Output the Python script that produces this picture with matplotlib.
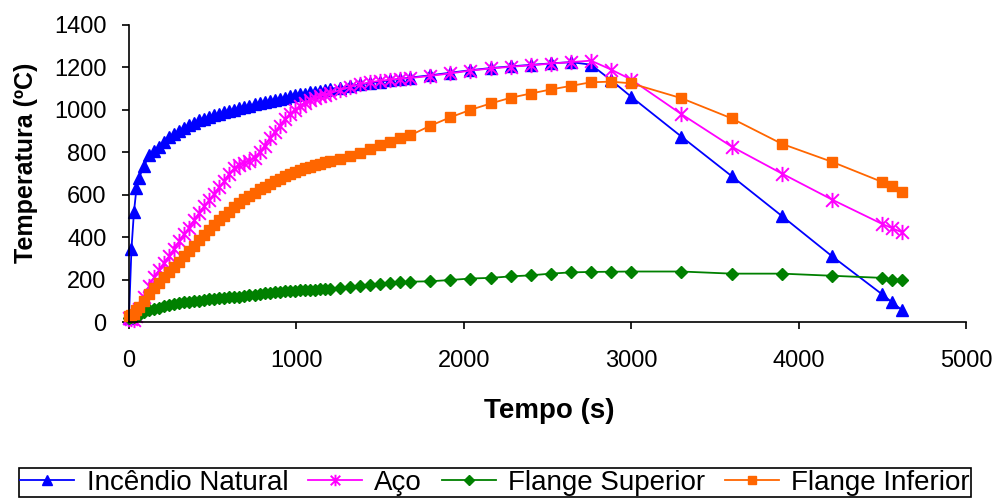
import matplotlib
matplotlib.use("Agg")
import matplotlib.pyplot as plt
from matplotlib.path import Path

plt.rcParams['font.family'] = ['Liberation Sans', 'DejaVu Sans']

# Time (s)
tempo = [0, 15, 30, 45, 60, 90, 120, 150, 180, 210, 240, 270, 300, 330, 360, 390,
         420, 450, 480, 510, 540, 570, 600, 630, 660, 690, 720, 750, 780, 810, 840,
         870, 900, 930, 960, 990, 1020, 1050, 1080, 1110, 1140, 1170, 1200,
         1260, 1320, 1380, 1440, 1500, 1560, 1620, 1680,
         1800, 1920, 2040, 2160, 2280, 2400, 2520, 2640, 2760, 2880, 3000,
         3300, 3600, 3900, 4200, 4500, 4560, 4620]

incendio = [20, 345, 520, 630, 680, 735, 785, 805, 825, 850, 872, 885, 900, 915, 928, 940,
            950, 958, 966, 974, 981, 988, 995, 1001, 1008, 1014, 1020, 1026, 1032, 1037, 1043,
            1048, 1053, 1058, 1063, 1068, 1073, 1077, 1082, 1086, 1090, 1095, 1099,
            1105, 1112, 1120, 1126, 1133, 1140, 1146, 1152,
            1163, 1175, 1187, 1197, 1205, 1212, 1219, 1225, 1213, 1140, 1062,
            874, 688, 500, 310, 130, 92, 55]

aco = [20, 12, 10, 30, 60, 120, 170, 210, 245, 280, 310, 345, 380, 415, 445, 480,
       515, 545, 575, 605, 635, 665, 700, 725, 740, 750, 760, 775, 800, 830, 865,
       895, 925, 955, 980, 1000, 1018, 1033, 1045, 1055, 1063, 1071, 1078,
       1093, 1108, 1120, 1130, 1137, 1142, 1146, 1150,
       1160, 1172, 1185, 1195, 1203, 1210, 1218, 1225, 1232, 1190, 1143,
       980, 827, 700, 577, 462, 442, 422]

flange_sup = [20, 22, 25, 30, 35, 45, 55, 62, 68, 74, 80, 84, 88, 92, 95, 98,
              101, 104, 107, 110, 112, 114, 116, 118, 120, 123, 126, 129, 132, 135, 138,
              140, 142, 144, 146, 148, 150, 151, 152, 153, 154, 155, 156,
              160, 165, 171, 176, 180, 184, 187, 190,
              192, 198, 205, 208, 215, 220, 228, 234, 236, 237, 238,
              238, 228, 228, 218, 208, 200, 200]

flange_inf = [30, 35, 40, 55, 70, 100, 130, 160, 185, 210, 235, 260, 285, 310, 335, 360,
              385, 410, 435, 458, 480, 500, 520, 540, 560, 578, 595, 610, 625, 638, 650,
              663, 675, 686, 697, 707, 716, 725, 733, 740, 746, 752, 757,
              768, 782, 798, 815, 832, 848, 865, 880,
              925, 965, 1000, 1030, 1057, 1077, 1096, 1113, 1130, 1133, 1125,
              1055, 960, 840, 755, 660, 640, 612]

# asterisk marker (x with a vertical bar)
star = Path([(-1, -1), (1, 1), (-1, 1), (1, -1), (0, -1.2), (0, 1.2)],
            [Path.MOVETO, Path.LINETO, Path.MOVETO, Path.LINETO, Path.MOVETO, Path.LINETO])

fig = plt.figure(figsize=(9.95, 4.98), dpi=100)
ax = fig.add_axes([0.1296, 0.3534, 0.8412, 0.5964])

ax.plot(tempo, incendio, color='#0000FF', lw=1.3, marker='^', ms=9,
        label='Incêndio Natural', clip_on=False)
ax.plot(tempo, aco, color='#FF00FF', lw=1.3, marker=star, ms=11, mew=1.4,
        label='Aço', clip_on=False)
ax.plot(tempo, flange_sup, color='#008000', lw=1.3, marker='D', ms=6.5,
        label='Flange Superior', clip_on=False)
ax.plot(tempo, flange_inf, color='#FF6600', lw=1.3, marker='s', ms=7.5,
        label='Flange Inferior', clip_on=False)

ax.set_xlim(0, 5000)
ax.set_ylim(0, 1400)
ax.set_xticks([0, 1000, 2000, 3000, 4000, 5000])
ax.set_yticks(range(0, 1401, 200))
ax.tick_params(direction='out', length=5, width=1.2, labelsize=17)
ax.tick_params(axis='x', pad=15)
ax.tick_params(axis='y', pad=11)
for side in ['top', 'right']:
    ax.spines[side].set_visible(False)
for side in ['left', 'bottom']:
    ax.spines[side].set_linewidth(1.2)

ax.set_xlabel('Tempo (s)', fontsize=20, fontweight='bold')
ax.xaxis.set_label_coords(0.502, -0.256)
ax.set_ylabel('Temperatura (ºC)', fontsize=18, fontweight='bold')
ax.yaxis.set_label_coords(-0.109, 0.535)

leg = fig.legend(loc='center', bbox_to_anchor=(0.4975, 0.031), ncol=4, fontsize=20,
                 frameon=True, fancybox=False, edgecolor='black', framealpha=1,
                 handlelength=1.95, handletextpad=0.45, columnspacing=0.7,
                 borderpad=0.05, borderaxespad=0, markerscale=0.75)
leg.get_frame().set_linewidth(1.2)

fig.savefig('out.png', dpi=100)
